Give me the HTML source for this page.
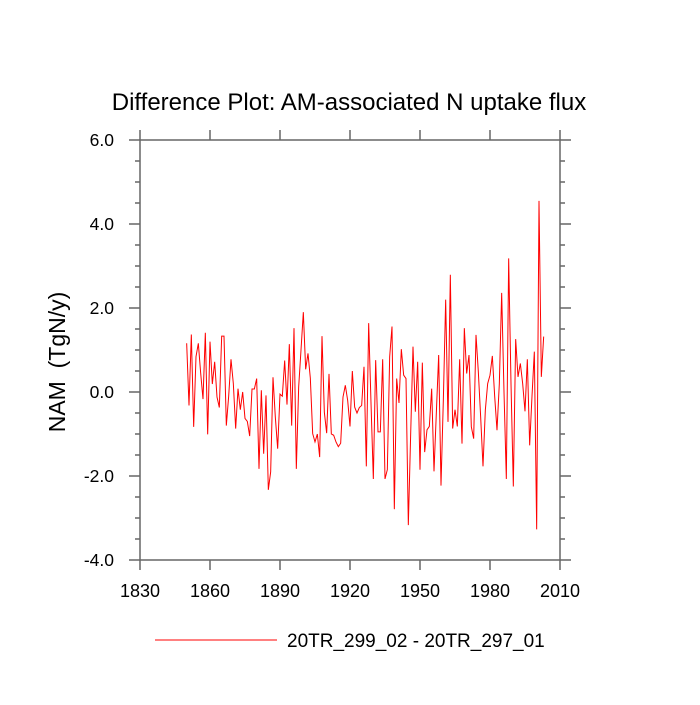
<!DOCTYPE html>
<html><head><meta charset="utf-8"><style>
body{margin:0;background:#fff;}
svg text{font-family:"Liberation Sans",sans-serif;fill:#000;}
</style></head><body>
<svg id="chart" width="700" height="700" xmlns="http://www.w3.org/2000/svg">
<text x="349" y="110" font-size="24" text-anchor="middle">Difference Plot: AM-associated N uptake flux</text>
<text transform="translate(65,362) rotate(-90)" font-size="23" text-anchor="middle">NAM &#160;(TgN/y)</text>
<g id="axes"></g>
<polyline id="series" fill="none" stroke="#ff0000" stroke-width="1"/>
<line x1="155" y1="640" x2="277" y2="640" stroke="#ff0000" stroke-width="1"/>
<text x="287" y="647" font-size="19">20TR_299_02 - 20TR_297_01</text>
</svg>
<script>
const startYear = 1850;
const values = [1.16,-0.32,1.37,-0.83,0.84,1.16,0.45,-0.17,1.41,-1.01,1.2,0.19,0.72,-0.12,-0.37,1.33,1.33,-0.8,-0.1,0.78,0.2,-0.87,0.08,-0.42,0.0,-0.63,-0.7,-1.05,0.07,0.07,0.32,-1.83,0.04,-1.47,-0.08,-2.33,-1.9,0.35,
-0.6,-1.35,-0.05,-0.1,0.75,-0.3,1.14,-0.8,1.52,-1.83,0.12,1.0,1.9,0.54,0.92,0.33,-0.99,-1.19,-1.0,-1.55,1.33,-0.48,-0.98,0.43,-1.0,-1.03,-1.19,-1.3,-1.22,-0.12,0.16,-0.2,-0.82,0.5,-0.36,-0.5,-0.37,-0.32,0.6,-1.77,1.64,-0.26,
-2.07,0.76,-0.95,-0.95,0.78,-2.07,-1.85,0.84,1.56,-2.79,0.32,-0.26,1.02,0.4,0.32,-3.17,-1.0,1.08,-0.47,0.72,-1.85,0.7,-1.43,-0.9,-0.82,0.08,-1.89,-0.5,0.88,-2.23,-0.2,2.2,-0.71,2.79,-0.87,-0.42,-0.82,0.78,-1.23,1.52,
0.44,0.88,-0.83,-1.11,1.36,0.48,-0.6,-1.77,-0.43,0.2,0.4,0.86,-0.1,-0.91,0.2,2.36,0.0,-2.07,3.18,0.2,-2.25,1.26,0.36,0.68,0.2,-0.46,0.78,-1.27,-0.1,0.96,-3.27,4.55,0.36,1.32];
const xTicks = [1830,1860,1890,1920,1950,1980,2010];
const yTicks = [-4,-2,0,2,4,6];
const yTickLabels = ["-4.0","-2.0","0.0","2.0","4.0","6.0"];

const X0=140,X1=560,Y0=140,Y1=560;
function xs(yr){return 140+(yr-1830)*(560-140)/180;}
function ys(v){return 392-v*42;}
const NS="http://www.w3.org/2000/svg";
const axes=document.getElementById('axes');
function mk(tag,attrs,name){const e=document.createElementNS(NS,tag);for(const k in attrs)e.setAttribute(k,attrs[k]);


axes.appendChild(e);return e;}
const st={stroke:"#666","stroke-width":1.5};
mk('rect',{x:X0,y:Y0,width:X1-X0,height:Y1-Y0,fill:"none",stroke:"#666","stroke-width":1.5},'plot-frame');
xTicks.forEach(t=>{const x=xs(t);
mk('line',Object.assign({x1:x,y1:Y1,x2:x,y2:Y1+10},st),'x-tick');
mk('line',Object.assign({x1:x,y1:Y0,x2:x,y2:Y0-10},st),'x-tick-top');
const tx=mk('text',{x:x,y:Y1+37,"font-size":18,"text-anchor":"middle"},'x-tick-label');tx.textContent=t;});
yTicks.forEach((t,i)=>{const y=ys(t);
mk('line',Object.assign({x1:X0,y1:y,x2:X0-11,y2:y},st),'y-tick');
mk('line',Object.assign({x1:X1,y1:y,x2:X1+11,y2:y},st),'y-tick-right');
const tx=mk('text',{x:X0-26,y:y+6,"font-size":17.5,"text-anchor":"end"},'y-tick-label');tx.textContent=yTickLabels[i];});
for(let v=-4;v<=6;v+=0.5){if(Number.isInteger(v/2))continue;const y=ys(v);
mk('line',Object.assign({x1:X0,y1:y,x2:X0-5,y2:y},st),'y-minor-tick');
mk('line',Object.assign({x1:X1,y1:y,x2:X1+5,y2:y},st),'y-minor-tick-right');}
document.getElementById('series').setAttribute('points',values.map((v,i)=>xs(startYear+i).toFixed(2)+","+ys(v).toFixed(2)).join(" "));
</script>
</body></html>
